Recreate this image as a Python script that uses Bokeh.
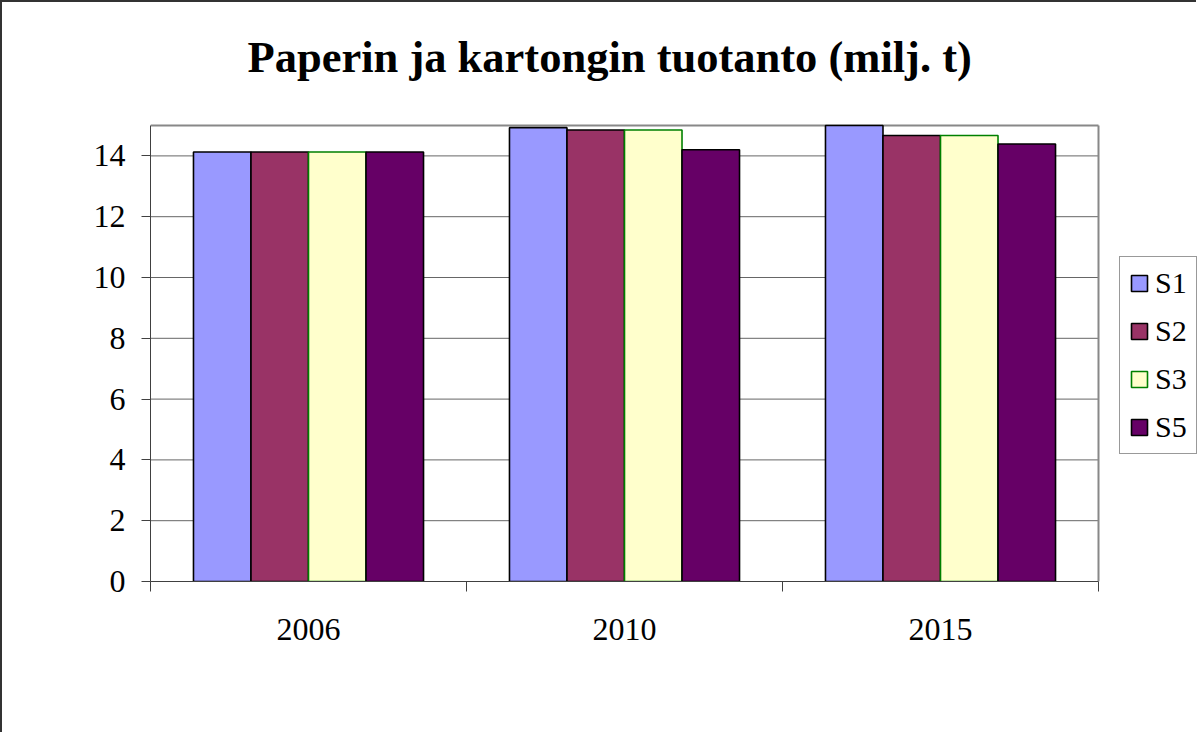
from bokeh.plotting import figure
from bokeh.models import FixedTicker, Legend, LegendItem, ColumnDataSource
from bokeh.embed import file_html
from bokeh.resources import INLINE

# ---- data ----
years = ["2006", "2010", "2015"]
series = ["S1", "S2", "S3", "S5"]
S1 = [14.13, 14.93, 15.0]
S2 = [14.13, 14.85, 14.67]
S3 = [14.13, 14.85, 14.67]
S5 = [14.13, 14.2, 14.39]
values = [S1, S2, S3, S5]
fills = ["#9999FF", "#993366", "#FFFFCC", "#660066"]
lines = ["#000000", "#000000", "#008000", "#000000"]
y_ticks = [0, 2, 4, 6, 8, 10, 12, 14]
y_max = 15

FONT = "Liberation Serif"

ncat = len(years)
# plot area is 948 x 456 px; the frame is enlarged (right, top) to host legend/title room
x_end = ncat * 1048 / 948
y_end = y_max * 481 / 456
p = figure(width=1196, height=732, output_backend="svg", toolbar_location=None,
           x_range=(0, x_end), y_range=(0, y_end),
           min_border_left=148, min_border_right=0,
           min_border_top=98, min_border_bottom=153,
           background_fill_color="white", border_fill_color="white")
p.styles = {"border-left": "2px solid #333333", "border-top": "2px solid #333333"}

p.title.text = "Paperin ja kartongin tuotanto (milj. t)"
p.title.text_font = FONT
p.title.text_font_style = "bold"
p.title.text_font_size = "44.5px"
p.title.text_color = "#000000"
p.title.align = "left"
p.title.vertical_align = "bottom"
p.title.offset = 97
p.title.standoff = 38

# gridlines and plot-area border, limited to the category span
p.xgrid.grid_line_color = None
p.ygrid.grid_line_color = None
grid_y = y_ticks[1:]
p.segment(x0=[0] * len(grid_y), x1=[ncat] * len(grid_y), y0=grid_y, y1=grid_y,
          line_color="#666666", line_width=1, level="underlay")
p.segment(x0=[0, ncat], x1=[ncat, ncat], y0=[y_max, 0], y1=[y_max, y_max],
          line_color="#888888", line_width=2, level="underlay")
p.outline_line_color = None

bw = 0.182
items = []
for j, (name, vals) in enumerate(zip(series, values)):
    xs = [i + 0.5 + (j - 1.5) * bw for i in range(ncat)]
    src = ColumnDataSource(dict(x=xs, top=vals))
    r = p.vbar(x="x", top="top", bottom=0, width=bw, source=src,
               fill_color=fills[j], line_color=lines[j], line_width=1.6)
    items.append(LegendItem(label=name, renderers=[r]))

# axes
p.xaxis.ticker = FixedTicker(ticks=[i + 0.5 for i in range(ncat)],
                             minor_ticks=list(range(ncat + 1)))
p.xaxis.major_label_overrides = {i + 0.5: y for i, y in enumerate(years)}
p.xaxis.bounds = (0, ncat)
p.xaxis.major_tick_out = 0
p.xaxis.major_tick_in = 0
p.xaxis.minor_tick_out = 10
p.xaxis.minor_tick_in = 0
p.xaxis.minor_tick_line_color = "#404040"
p.xaxis.axis_line_color = "#404040"
p.xaxis.major_label_standoff = 27
p.xaxis.major_label_text_font = FONT
p.xaxis.major_label_text_font_size = "32px"
p.xaxis.major_label_text_color = "#000000"

p.yaxis.ticker = FixedTicker(ticks=y_ticks)
p.yaxis.bounds = (0, y_max)
p.yaxis.major_tick_out = 9
p.yaxis.major_tick_in = 0
p.yaxis.minor_tick_line_color = None
p.yaxis.axis_line_color = "#404040"
p.yaxis.major_tick_line_color = "#404040"
p.yaxis.major_label_standoff = 16
p.yaxis.major_label_text_font = FONT
p.yaxis.major_label_text_font_size = "32px"
p.yaxis.major_label_text_color = "#000000"

legend = Legend(items=items, location=(969, 127), margin=0, padding=9,
                glyph_width=20, glyph_height=20, label_standoff=6,
                label_height=20, spacing=14,
                label_text_font=FONT, label_text_font_size="30px",
                label_text_color="#000000",
                border_line_color="#333333", border_line_width=1,
                background_fill_color="white", background_fill_alpha=1)
p.add_layout(legend, "center")

open("out.html", "w").write(file_html(p, INLINE))
